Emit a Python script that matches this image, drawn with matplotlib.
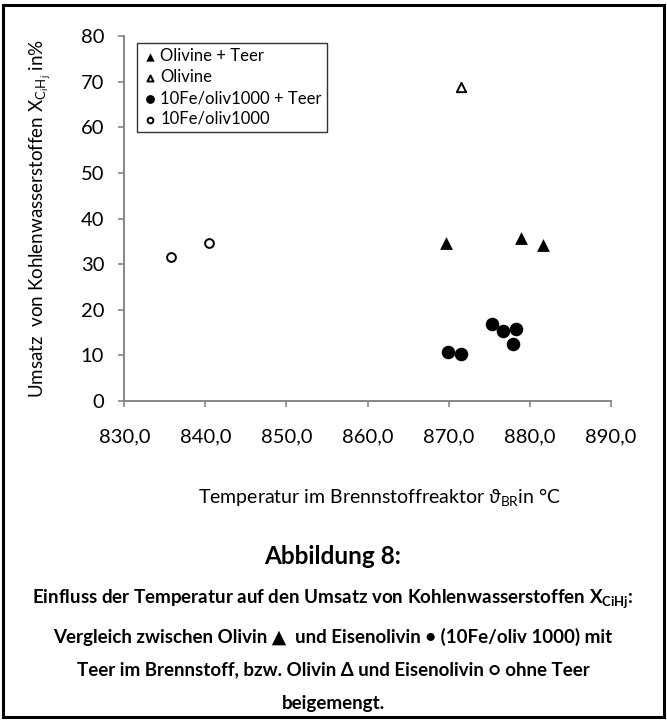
import matplotlib
matplotlib.use("Agg")
import matplotlib.pyplot as plt
from matplotlib.patches import Rectangle

# ---- data ----
olivine_teer_x = [869.7, 878.9, 881.7]
olivine_teer_y = [34.7, 35.8, 34.3]
olivine_x = [871.5]
olivine_y = [68.8]
fe_teer_x = [869.9, 871.5, 875.3, 876.7, 878.3, 878.0]
fe_teer_y = [10.8, 10.4, 16.9, 15.4, 15.8, 12.5]
fe_x = [835.8, 840.5]
fe_y = [31.6, 34.7]
series_labels = ["Olivine + Teer", "Olivine", "10Fe/oliv1000 + Teer", "10Fe/oliv1000"]
x_ticks = [830, 840, 850, 860, 870, 880, 890]
y_ticks = [0, 10, 20, 30, 40, 50, 60, 70, 80]

plt.rcParams['font.family'] = ['Lato', 'DejaVu Sans']
plt.rcParams['mathtext.fontset'] = 'custom'
plt.rcParams['mathtext.rm'] = 'Lato'
plt.rcParams['mathtext.it'] = 'Lato:italic'
plt.rcParams['mathtext.bf'] = 'Lato:bold'

W, H = 667, 720
fig = plt.figure(figsize=(W / 100, H / 100), dpi=100)
ax = fig.add_axes([124.3 / W, 1 - 401 / H, (610.7 - 124.3) / W, (401 - 36) / H])

gray = '#868686'
ax.scatter(olivine_teer_x, olivine_teer_y, marker='^', s=85, c='black', linewidths=0, label=series_labels[0], zorder=3)
ax.scatter(olivine_x, olivine_y, marker='^', s=45, facecolors='white', edgecolors='black', linewidths=1.4, label=series_labels[1], zorder=3)
ax.scatter(fe_teer_x, fe_teer_y, marker='o', s=95, c='black', linewidths=0, label=series_labels[2], zorder=3)
ax.scatter(fe_x, fe_y, marker='o', s=40, facecolors='white', edgecolors='black', linewidths=1.4, label=series_labels[3], zorder=3)

ax.set_xlim(830, 890)
ax.set_ylim(0, 80)
ax.set_xticks(x_ticks)
ax.set_xticklabels([f"{v:.1f}".replace('.', ',') for v in x_ticks])
ax.set_yticks(y_ticks)
for s in ['top', 'right']:
    ax.spines[s].set_visible(False)
for s in ['left', 'bottom']:
    ax.spines[s].set_color(gray)
    ax.spines[s].set_linewidth(1.4)
ax.tick_params(axis='both', direction='out', length=4.5, width=1.2, color=gray, labelsize=14.5, labelcolor='black')
ax.tick_params(axis='y', pad=10)
ax.tick_params(axis='x', pad=15)

ax.set_xlabel(r"Temperatur im Brennstoffreaktor $\vartheta_{\mathrm{BR}}$in °C", fontsize=14)
ax.xaxis.set_label_coords(0.525, -0.232)
ax.set_ylabel(r"Umsatz  von Kohlenwasserstoffen X$_{\mathrm{C_iH_j}}$ in%", fontsize=13.5, labelpad=20)

leg = ax.legend(loc='upper left', bbox_to_anchor=(137 / W, 1 - 43 / H), bbox_transform=fig.transFigure,
                fontsize=12, frameon=True, fancybox=False, edgecolor='black', handletextpad=0.1,
                handlelength=1.0, borderpad=0.3, labelspacing=0.3, markerscale=0.65, borderaxespad=0)
leg.get_frame().set_linewidth(1.0)

# caption
fig.text(333 / W, 1 - 557 / H, "Abbildung 8:", ha='center', va='center', fontsize=17.5, fontweight='bold')
cap = [
    (r"Einfluss der Temperatur auf den Umsatz von Kohlenwasserstoffen X$_{\mathbf{CiHj}}$:", 599),
    ("Vergleich zwischen Olivin \u25B2  und Eisenolivin \u2022 (10Fe/oliv 1000) mit", 637),
    ("Teer im Brennstoff, bzw. Olivin \u0394 und Eisenolivin \u25CB ohne Teer", 670),
    ("beigemengt.", 703),
]
for txt, yy in cap:
    fig.text(333 / W, 1 - yy / H, txt, ha='center', va='center', fontsize=13.5, fontweight='bold')

fig.patches.append(Rectangle((2.5 / W, 3.5 / H), (W - 6) / W, (H - 8) / H, transform=fig.transFigure,
                             fill=False, edgecolor='black', linewidth=2.2))

fig.savefig("out.png", dpi=100)
